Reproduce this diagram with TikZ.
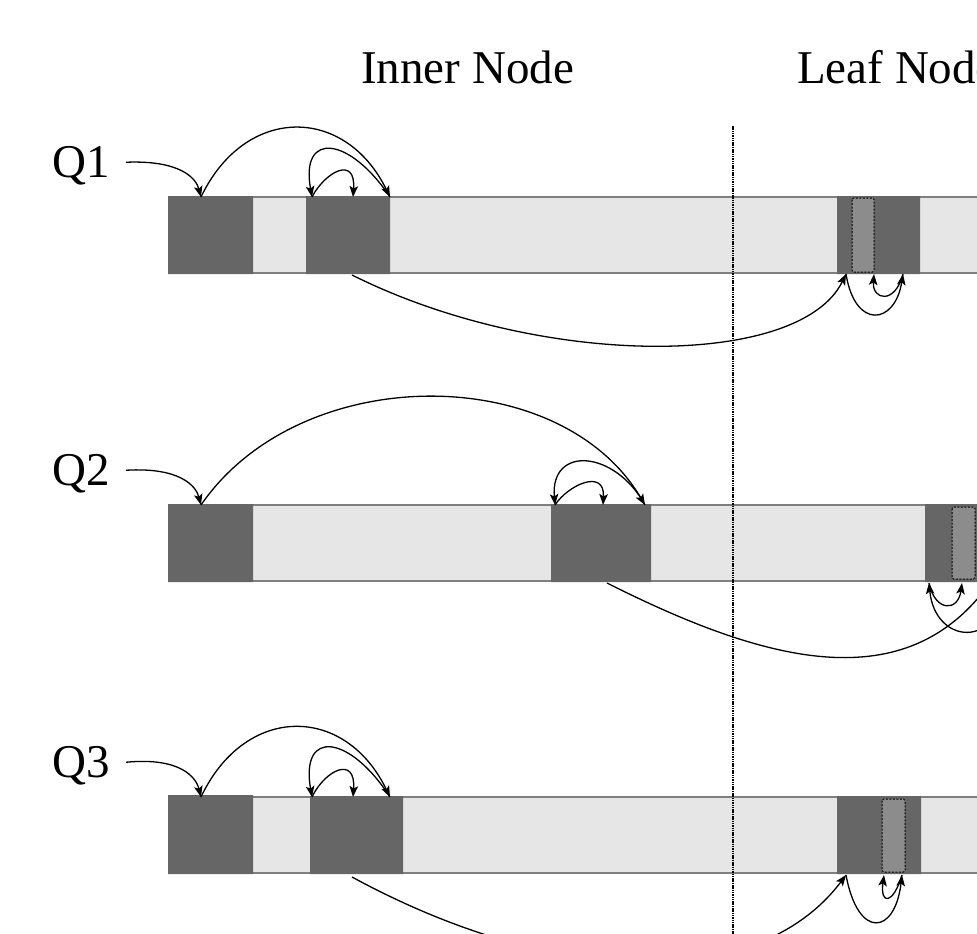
\documentclass[tikz,border=0pt]{standalone}
\usepackage{fontspec}
\setmainfont{Liberation Serif}
\usetikzlibrary{arrows.meta}

\definecolor{blkdark}{HTML}{666666}
\definecolor{blklight}{HTML}{E6E6E6}
\definecolor{blkedge}{HTML}{7F7F7F}
\definecolor{blkprobe}{HTML}{8C8C8C}

\begin{document}
\begin{tikzpicture}[x=1pt, y=-1pt,
  every node/.style={font=\fontsize{47}{56}\selectfont, inner sep=0pt},
  hop/.style={-{Stealth[length=11pt,width=8.5pt,inset=2.5pt]}, line width=1.3pt, black},
  darkblk/.style={fill=blkdark},
  probe/.style={fill=blkprobe, draw=black, dash pattern=on 2pt off 1.5pt, line width=1pt, rounded corners=1.5pt},
  bar/.style={fill=blklight}]
  \useasboundingbox (0,0) rectangle (977,934);
  \clip (0,0) rectangle (977,934);

  % Headings
  \node[anchor=base west] (inner) at (361,83) {Inner Node};
  \node[anchor=base west] (leaf) at (797,83) {Leaf Node};

  % Key arrays of the three queries (light bar with gray edges)
  \foreach \y in {197,505,797} {
    \fill[bar] (168,\y) rectangle (990,\y+76);
    \draw[blkedge, line width=2pt] (168,\y) -- (990,\y) (168,\y+76) -- (990,\y+76);
  }

  % Visited blocks
  \fill[darkblk] (168,196) rectangle (253,274) (306,196) rectangle (390,274) (837,196) rectangle (920,274);
  \fill[darkblk] (168,504) rectangle (253,582) (551,504) rectangle (651,582) (925,504) rectangle (990,582);
  \fill[darkblk] (168,795) rectangle (253,874) (310,796) rectangle (403,874) (837,796) rectangle (921,874);

  % Probed keys in the leaf
  \draw[probe] (852,198) rectangle (874,272);
  \draw[probe] (952,507) rectangle (975,579);
  \draw[probe] (882,799) rectangle (905,872);

  % Inner / leaf split
  \draw[line width=1.2pt, dash pattern=on 1.5pt off 0.8pt] (733,126) -- (733,934);

  % Q1
  \node[anchor=base west] (q1) at (52,177) {Q1};
  \coordinate (q1root) at (201,197);
  \coordinate (q1hi) at (390,197);
  \coordinate (q1lo) at (312,197);
  \coordinate (q1mid) at (353,197);
  \coordinate (q1down) at (352,275);
  \coordinate (q1leaf) at (846,274);
  \coordinate (q1r) at (903,274);
  \coordinate (q1m) at (874,274);
  \draw[hop] ([xshift=16pt,yshift=3pt]q1.east) .. controls (180,160) and (196,178) .. (q1root);
  \draw[hop] (q1root) .. controls (245,105) and (345,105) .. (q1hi);
  \draw[hop] (q1hi) .. controls (350,137) and (300,130) .. (q1lo);
  \draw[hop] (q1lo) .. controls (325,172) and (356,155) .. (q1mid);
  \draw[hop] (q1down) .. controls (540,369) and (800,369) .. (q1leaf);
  \draw[hop] (q1leaf) .. controls (855,330) and (895,325) .. (q1r);
  \draw[hop] (q1r) .. controls (895,305) and (872,300) .. (q1m);

  % Q2
  \node[anchor=base west] (q2) at (52,485) {Q2};
  \coordinate (q2root) at (201,505);
  \coordinate (q2hi) at (645,505);
  \coordinate (q2lo) at (555,505);
  \coordinate (q2mid) at (603,505);
  \coordinate (q2down) at (607,583);
  \coordinate (q2leaf) at (990,583);
  \coordinate (q2back) at (1005,583);
  \coordinate (q2l) at (929,583);
  \coordinate (q2r) at (962,583);
  \draw[hop] ([xshift=16pt,yshift=3pt]q2.east) .. controls (180,467) and (196,486) .. (q2root);
  \draw[hop] (q2root) .. controls (300,361) and (560,361) .. (q2hi);
  \draw[hop] (q2hi) .. controls (615,450) and (550,445) .. (q2lo);
  \draw[hop] (q2lo) .. controls (568,485) and (605,468) .. (q2mid);
  \draw[hop] (q2down) .. controls (760,660) and (900,700) .. (q2leaf);
  \draw[hop] (q2back) .. controls (1000,650) and (935,645) .. (q2l);
  \draw[hop] (q2l) .. controls (935,612) and (958,612) .. (q2r);

  % Q3
  \node[anchor=base west] (q3) at (52,777) {Q3};
  \coordinate (q3root) at (201,797);
  \coordinate (q3hi) at (390,797);
  \coordinate (q3lo) at (312,797);
  \coordinate (q3mid) at (353,797);
  \coordinate (q3down) at (352,877);
  \coordinate (q3leaf) at (846,875);
  \coordinate (q3r) at (902,875);
  \coordinate (q3m) at (884,875);
  \draw[hop] ([xshift=16pt,yshift=3pt]q3.east) .. controls (180,757) and (196,777) .. (q3root);
  \draw[hop] (q3root) .. controls (245,704) and (345,704) .. (q3hi);
  \draw[hop] (q3hi) .. controls (350,735) and (300,728) .. (q3lo);
  \draw[hop] (q3lo) .. controls (325,770) and (356,755) .. (q3mid);
  \draw[hop] (q3down) .. controls (560,990) and (760,990) .. (q3leaf);
  \draw[hop] (q3leaf) .. controls (858,940) and (895,935) .. (q3r);
  \draw[hop] (q3r) .. controls (893,905) and (880,905) .. (q3m);
\end{tikzpicture}
\end{document}
